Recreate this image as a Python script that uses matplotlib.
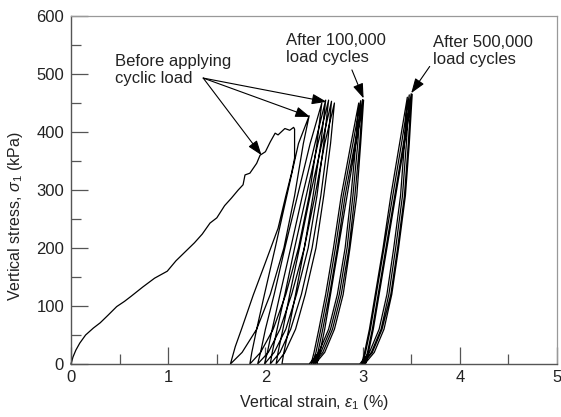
import matplotlib
matplotlib.use("Agg")
import matplotlib.pyplot as plt
from matplotlib.ticker import MultipleLocator

plt.rcParams['font.family'] = ['Liberation Sans', 'DejaVu Sans']
plt.rcParams['mathtext.fontset'] = 'custom'
plt.rcParams['mathtext.rm'] = 'Liberation Sans'
plt.rcParams['mathtext.it'] = 'Liberation Sans:italic'

# monotonic loading curve (strain %, stress kPa)
mono_strain = [0, 0.02, 0.05, 0.09, 0.15, 0.23, 0.30, 0.38, 0.47, 0.55, 0.62, 0.74,
               0.86, 0.99, 1.08, 1.19, 1.27, 1.35, 1.43, 1.50, 1.58, 1.65, 1.72,
               1.77, 1.79, 1.84, 1.91, 1.945, 2.00, 2.05, 2.10, 2.13, 2.20, 2.25, 2.29]
mono_stress = [0, 12, 24, 36, 50, 62, 71, 84, 99, 108, 117, 133,
               148, 160, 178, 196, 209, 224, 243, 252, 273, 286, 300,
               309, 326, 329, 346, 360, 366, 383, 398, 395, 406, 403, 408]

# first unloading after the monotonic test
unload0_strain = [2.29, 2.30, 2.30, 2.27, 2.21, 2.13, 2.00, 1.875, 1.756, 1.69, 1.64]
unload0_stress = [408, 405, 355, 330, 290, 234, 175, 119, 61, 30, 0]

# strain of each loop branch at these stress levels, last value = peak
stress_levels = [0, 20, 60, 120, 200, 290, 380]

g1_load = [
    [1.64, 1.76, 1.91, 2.05, 2.19, 2.30, 2.39, 2.45],
    [1.84, 1.95, 2.08, 2.21, 2.34, 2.45, 2.53, 2.58],
    [1.92, 2.03, 2.15, 2.27, 2.40, 2.49, 2.57, 2.62],
    [1.99, 2.09, 2.21, 2.32, 2.44, 2.53, 2.60, 2.65],
    [2.05, 2.15, 2.26, 2.37, 2.48, 2.57, 2.64, 2.68],
    [2.11, 2.20, 2.31, 2.41, 2.52, 2.60, 2.67, 2.71],
]
g1_unload = [
    [1.84, 1.86, 1.91, 1.99, 2.10, 2.22, 2.34, 2.45],
    [1.92, 1.95, 2.00, 2.09, 2.20, 2.33, 2.46, 2.58],
    [1.99, 2.02, 2.07, 2.15, 2.26, 2.38, 2.51, 2.62],
    [2.05, 2.07, 2.12, 2.20, 2.30, 2.42, 2.54, 2.65],
    [2.11, 2.13, 2.18, 2.25, 2.35, 2.46, 2.58, 2.68],
    [2.17, 2.19, 2.24, 2.31, 2.40, 2.51, 2.61, 2.71],
]
g1_peak = [428, 450, 455, 455, 453, 450]

g2_load = [
    [2.45, 2.55, 2.65, 2.74, 2.82, 2.88, 2.93, 2.96],
    [2.47, 2.57, 2.67, 2.76, 2.84, 2.90, 2.95, 2.98],
    [2.49, 2.59, 2.69, 2.78, 2.86, 2.92, 2.97, 3.00],
    [2.51, 2.61, 2.71, 2.80, 2.87, 2.94, 2.98, 3.01],
]
g2_unload = [
    [2.47, 2.50, 2.55, 2.62, 2.70, 2.78, 2.88, 2.96],
    [2.49, 2.52, 2.57, 2.64, 2.72, 2.80, 2.90, 2.98],
    [2.51, 2.54, 2.59, 2.66, 2.74, 2.82, 2.92, 3.00],
    [2.53, 2.56, 2.61, 2.67, 2.75, 2.84, 2.93, 3.01],
]
g2_peak = [450, 454, 456, 455]

g3_load = [
    [2.97, 3.07, 3.17, 3.25, 3.32, 3.39, 3.43, 3.46],
    [2.99, 3.09, 3.19, 3.27, 3.34, 3.41, 3.45, 3.48],
    [3.00, 3.10, 3.20, 3.29, 3.36, 3.43, 3.47, 3.50],
    [3.02, 3.12, 3.22, 3.30, 3.37, 3.44, 3.48, 3.51],
]
g3_unload = [
    [2.99, 3.02, 3.07, 3.13, 3.21, 3.29, 3.38, 3.46],
    [3.00, 3.03, 3.08, 3.14, 3.22, 3.31, 3.40, 3.48],
    [3.02, 3.05, 3.10, 3.16, 3.24, 3.33, 3.42, 3.50],
    [3.03, 3.06, 3.11, 3.17, 3.25, 3.34, 3.43, 3.51],
]
g3_peak = [460, 464, 466, 465]


def loops_path(loads, unloads, peaks):
    xs, ys = [], []
    for ld, ul, pk in zip(loads, unloads, peaks):
        lev = stress_levels + [pk]
        xs += ld
        ys += lev
        xs += ul[::-1]
        ys += lev[::-1]
    return xs, ys


fig = plt.figure(figsize=(5.61, 4.17), dpi=100)
ax = fig.add_axes([0.1266, 0.1271, 0.8663, 0.8345])

xs = list(mono_strain) + unload0_strain
ys = list(mono_stress) + unload0_stress
for grp in [(g1_load, g1_unload, g1_peak), (g2_load, g2_unload, g2_peak),
            (g3_load, g3_unload, g3_peak)]:
    gx, gy = loops_path(*grp)
    xs += gx
    ys += gy
ax.plot(xs, ys, color='black', lw=0.9, clip_on=False)

ax.set_xlim(0, 5)
ax.set_ylim(0, 600)
ax.xaxis.set_major_locator(MultipleLocator(1))
ax.xaxis.set_minor_locator(MultipleLocator(0.5))
ax.yaxis.set_major_locator(MultipleLocator(100))
ax.yaxis.set_minor_locator(MultipleLocator(50))
ax.tick_params(which='both', direction='in', color='#555555', width=0.9,
               labelsize=12, labelcolor='#222222')
ax.tick_params(which='major', length=12)
ax.tick_params(which='minor', length=7)
ax.tick_params(axis='x', pad=4)
ax.tick_params(axis='y', pad=5)
for side in ['top', 'right']:
    ax.spines[side].set_color('#999999')
    ax.spines[side].set_linewidth(0.9)
for side in ['left', 'bottom']:
    ax.spines[side].set_color('#555555')
    ax.spines[side].set_linewidth(1.0)

ax.set_xlabel(r'Vertical strain, $\varepsilon_1$ (%)', fontsize=11.5, color='#222222')
ax.set_ylabel(r'Vertical stress, $\sigma_1$ (kPa)', fontsize=11.5, color='#222222')
ax.xaxis.set_label_coords(0.5, -0.082)
ax.yaxis.set_label_coords(-0.095, 0.425)

arrow = dict(arrowstyle='-|>,head_length=0.9,head_width=0.32', color='black',
             lw=0.8, shrinkA=0, shrinkB=0, mutation_scale=10)

ax.text(0.45, 507, 'Before applying\ncyclic load', fontsize=12, color='#222222',
        va='center', ha='left', linespacing=1.15)
for tip in [(1.96, 360), (2.46, 426), (2.63, 452)]:
    ax.annotate('', xy=tip, xytext=(1.36, 493), arrowprops=arrow)

ax.text(2.21, 543, 'After 100,000\nload cycles', fontsize=12, color='#222222',
        va='center', ha='left', linespacing=1.15)
ax.annotate('', xy=(3.01, 458), xytext=(2.89, 507), arrowprops=arrow)

ax.text(3.72, 539, 'After 500,000\nload cycles', fontsize=12, color='#222222',
        va='center', ha='left', linespacing=1.15)
ax.annotate('', xy=(3.50, 467), xytext=(3.69, 513), arrowprops=arrow)

fig.savefig('out.png', dpi=100)
